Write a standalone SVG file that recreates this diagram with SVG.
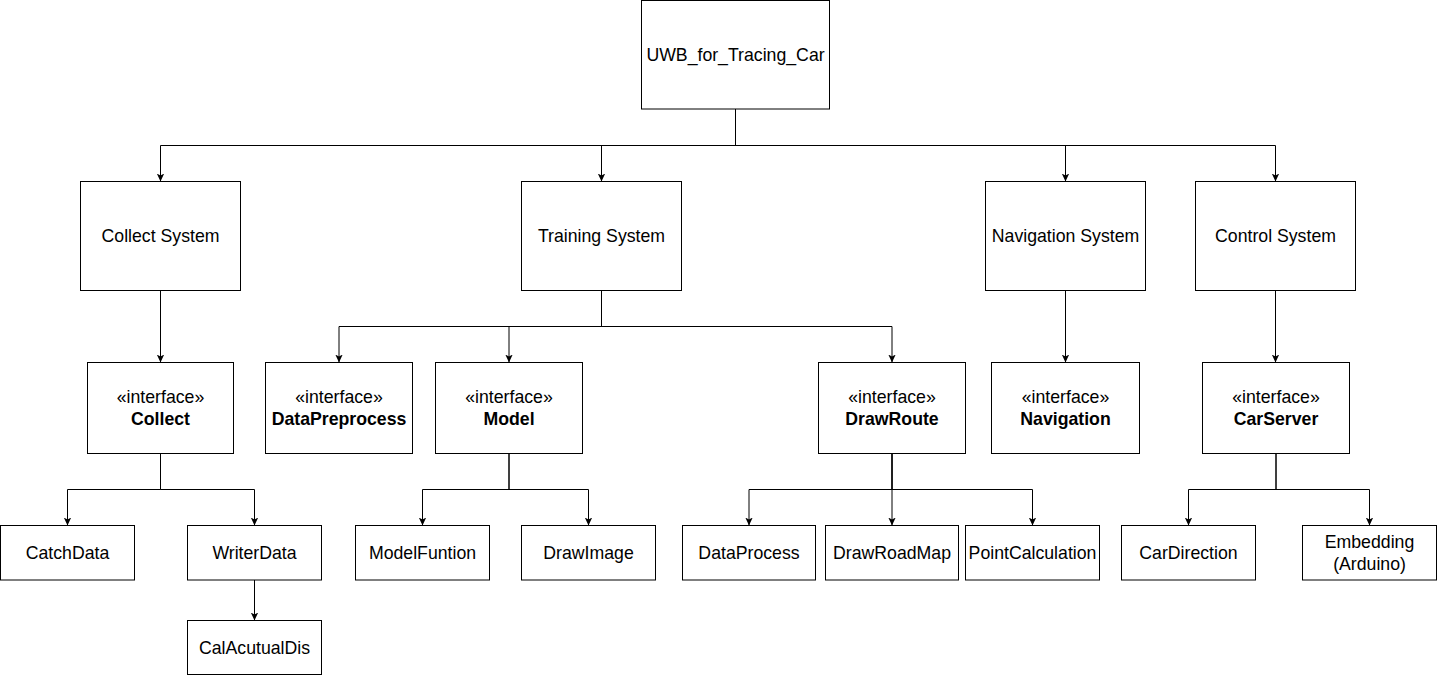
<svg xmlns="http://www.w3.org/2000/svg" width="1438" height="676" viewBox="0 0 1438 676">
<style>
.box{fill:#fff;stroke:#000;stroke-width:1}
.t{font-family:"Liberation Sans",Arial,sans-serif;font-size:17.7px;fill:#000;text-anchor:middle}
.b{font-weight:bold}
.c{fill:none;stroke:#000;stroke-width:1;marker-end:url(#arr)}
</style>
<defs>
<marker id="arr" markerWidth="9" markerHeight="9" refX="8" refY="4" orient="auto" markerUnits="userSpaceOnUse">
<path d="M0,0.3 L8,4 L0,7.7 L2,4 Z" fill="#000"/>
</marker>
</defs>
<rect width="1438" height="676" fill="#fff"/>
<g id="connectors">
<path class="c" d="M735.5,109 V145.5 H160.5 V181.5"/>
<path class="c" d="M735.5,109 V145.5 H601.5 V181.5"/>
<path class="c" d="M735.5,109 V145.5 H1065.5 V181.5"/>
<path class="c" d="M735.5,109 V145.5 H1275.5 V181.5"/>
<path class="c" d="M160.5,290.5 V362.5"/>
<path class="c" d="M601.5,290.5 V326.5 H339 V362.5"/>
<path class="c" d="M601.5,290.5 V326.5 H509 V362.5"/>
<path class="c" d="M601.5,290.5 V326.5 H892 V362.5"/>
<path class="c" d="M1065.5,290.5 V362.5"/>
<path class="c" d="M1275.5,290.5 V362.5"/>
<path class="c" d="M160.5,453.5 V489.5 H67.5 V525.5"/>
<path class="c" d="M160.5,453.5 V489.5 H254.5 V525.5"/>
<path class="c" d="M254.5,580 V620.5"/>
<path class="c" d="M509,453.5 V489.5 H422.5 V525.5"/>
<path class="c" d="M509,453.5 V489.5 H588.5 V525.5"/>
<path class="c" d="M892,453.5 V489.5 H749 V525.5"/>
<path class="c" d="M892,453.5 V525.5"/>
<path class="c" d="M892,453.5 V489.5 H1032.5 V525.5"/>
<path class="c" d="M1276,453.5 V489.5 H1188.5 V525.5"/>
<path class="c" d="M1276,453.5 V489.5 H1369.5 V525.5"/>
</g>
<g id="root"><rect class="box" x="641.5" y="0.5" width="188" height="108.5"/><text class="t" x="735.5" y="60.5">UWB_for_Tracing_Car</text></g>
<g id="collect-system"><rect class="box" x="80.5" y="181.5" width="160" height="109"/><text class="t" x="160.5" y="242.3">Collect System</text></g>
<g id="training-system"><rect class="box" x="521.5" y="181.5" width="160" height="109"/><text class="t" x="601.5" y="242.3">Training System</text></g>
<g id="navigation-system"><rect class="box" x="985.5" y="181.5" width="160" height="109"/><text class="t" x="1065.5" y="242.3">Navigation System</text></g>
<g id="control-system"><rect class="box" x="1195.5" y="181.5" width="160" height="109"/><text class="t" x="1275.5" y="242.3">Control System</text></g>
<g id="collect"><rect class="box" x="87.5" y="362.5" width="146" height="91"/><text class="t" x="160.5" y="403.3">«interface»</text><text class="t b" x="160.5" y="425.3">Collect</text></g>
<g id="datapreprocess"><rect class="box" x="265.5" y="362.5" width="147" height="91"/><text class="t" x="339" y="403.3">«interface»</text><text class="t b" x="339" y="425.3">DataPreprocess</text></g>
<g id="model"><rect class="box" x="435.5" y="362.5" width="147" height="91"/><text class="t" x="509" y="403.3">«interface»</text><text class="t b" x="509" y="425.3">Model</text></g>
<g id="drawroute"><rect class="box" x="818.5" y="362.5" width="147" height="91"/><text class="t" x="892" y="403.3">«interface»</text><text class="t b" x="892" y="425.3">DrawRoute</text></g>
<g id="navigation"><rect class="box" x="991.5" y="362.5" width="148" height="91"/><text class="t" x="1065.5" y="403.3">«interface»</text><text class="t b" x="1065.5" y="425.3">Navigation</text></g>
<g id="carserver"><rect class="box" x="1202.5" y="362.5" width="147" height="91"/><text class="t" x="1276" y="403.3">«interface»</text><text class="t b" x="1276" y="425.3">CarServer</text></g>
<g id="catchdata"><rect class="box" x="0.5" y="525.5" width="134" height="54.5"/><text class="t" x="67.5" y="559">CatchData</text></g>
<g id="writerdata"><rect class="box" x="187.5" y="525.5" width="134" height="54.5"/><text class="t" x="254.5" y="559">WriterData</text></g>
<g id="calacutualdis"><rect class="box" x="187.5" y="620.5" width="134" height="54"/><text class="t" x="254.5" y="653.5">CalAcutualDis</text></g>
<g id="modelfuntion"><rect class="box" x="355.5" y="525.5" width="134" height="54.5"/><text class="t" x="422.5" y="559">ModelFuntion</text></g>
<g id="drawimage"><rect class="box" x="521.5" y="525.5" width="134" height="54.5"/><text class="t" x="588.5" y="559">DrawImage</text></g>
<g id="dataprocess"><rect class="box" x="682.5" y="525.5" width="133" height="54.5"/><text class="t" x="749" y="559">DataProcess</text></g>
<g id="drawroadmap"><rect class="box" x="825.5" y="525.5" width="133" height="54.5"/><text class="t" x="892" y="559">DrawRoadMap</text></g>
<g id="pointcalculation"><rect class="box" x="965.5" y="525.5" width="134" height="54.5"/><text class="t" x="1032.5" y="559">PointCalculation</text></g>
<g id="cardirection"><rect class="box" x="1121.5" y="525.5" width="134" height="54.5"/><text class="t" x="1188.5" y="559">CarDirection</text></g>
<g id="embedding"><rect class="box" x="1302.5" y="525.5" width="134" height="54.5"/><text class="t" x="1369.5" y="548">Embedding</text><text class="t" x="1369.5" y="570">(Arduino)</text></g>
</svg>
